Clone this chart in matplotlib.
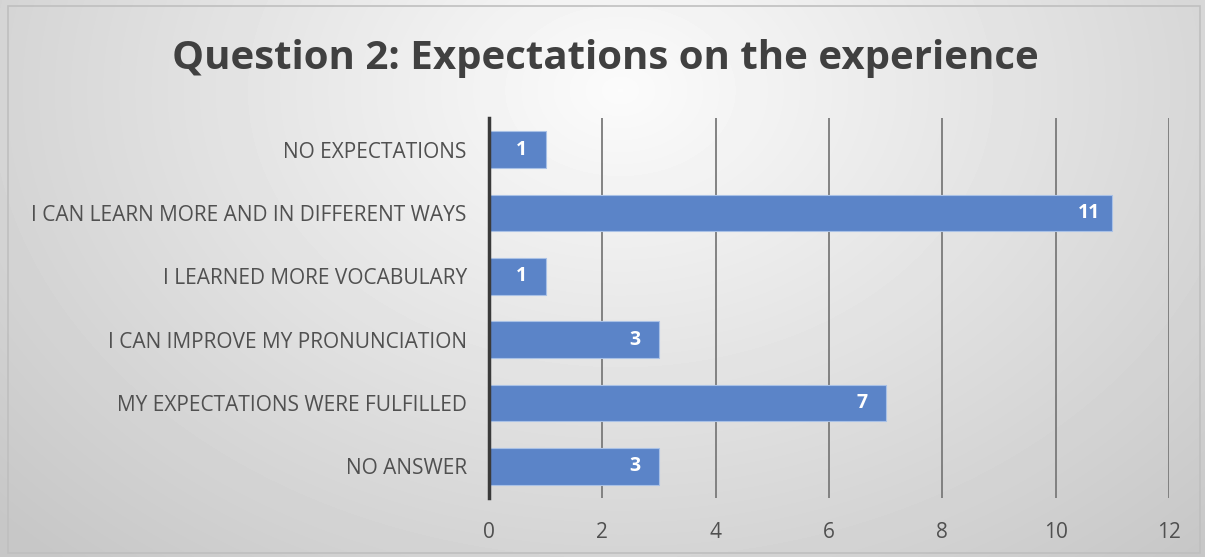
import numpy as np
import matplotlib
matplotlib.use('Agg')
import matplotlib.pyplot as plt
from matplotlib.patches import Rectangle

plt.rcParams['font.family'] = ['Open Sans', 'DejaVu Sans']

# data, top to bottom as in the chart
categories = ['NO EXPECTATIONS', 'I CAN LEARN MORE AND IN DIFFERENT WAYS',
              'I LEARNED MORE VOCABULARY', 'I CAN IMPROVE MY PRONUNCIATION',
              'MY EXPECTATIONS WERE FULFILLED', 'NO ANSWER']
values = [1, 11, 1, 3, 7, 3]
xticks = [0, 2, 4, 6, 8, 10, 12]
title = 'Question 2: Expectations on the experience'

W, H = 1205, 557
fig = plt.figure(figsize=(W / 100, H / 100), dpi=100)

# radial gray background
bg = fig.add_axes([0, 0, 1, 1], zorder=-2)
yy, xx = np.mgrid[0:H, 0:W]
d = np.sqrt(((xx - 620) / 700.0) ** 2 + ((yy - 90) / 520.0) ** 2)
shade = np.clip(0.985 - 0.17 * d, 0.78, 0.985)
bg.imshow(shade, cmap='gray', vmin=0, vmax=1, aspect='auto',
          extent=[0, W, H, 0], interpolation='bilinear')
bg.set_xlim(0, W)
bg.set_ylim(H, 0)
bg.axis('off')
bg.add_patch(Rectangle((8, 6), 1192, 547, fill=False, edgecolor='#bfbfbf', lw=1.2))

ax = fig.add_axes([489 / W, 1 - 498 / H, (1169 - 489) / W, (498 - 118) / H])
ax.patch.set_alpha(0)
pos = np.arange(len(categories))
ax.barh(pos, values, height=0.58, color='#5b84c8', edgecolor='#a9c1e6', lw=0.8, zorder=3)
for p, v in zip(pos, values):
    ax.text(v - 0.42, p, str(v), ha='center', va='center', color='white',
            fontsize=14, fontweight='bold', zorder=4)

ax.set_xlim(0, 12)
ax.set_ylim(len(categories) - 0.5, -0.5)
ax.set_xticks(xticks)
ax.set_xticklabels([str(t) for t in xticks])
ax.set_yticks(pos)
ax.set_yticklabels(categories)
ax.grid(axis='x', color='#7a7a7a', lw=1.3, zorder=1)
ax.tick_params(length=0, labelsize=15, colors='#505050')
ax.tick_params(axis='y', pad=16)
ax.tick_params(axis='x', pad=17)
for s in ['top', 'right', 'bottom']:
    ax.spines[s].set_visible(False)
ax.spines['left'].set_color('#3a3a3a')
ax.spines['left'].set_linewidth(2.5)
ax.spines['left'].set_zorder(5)

fig.text(0.5025, 1 - 58 / H, title, ha='center', va='center',
         fontsize=29, fontweight='bold', color='#404040')

fig.savefig('out.png', dpi=100)
